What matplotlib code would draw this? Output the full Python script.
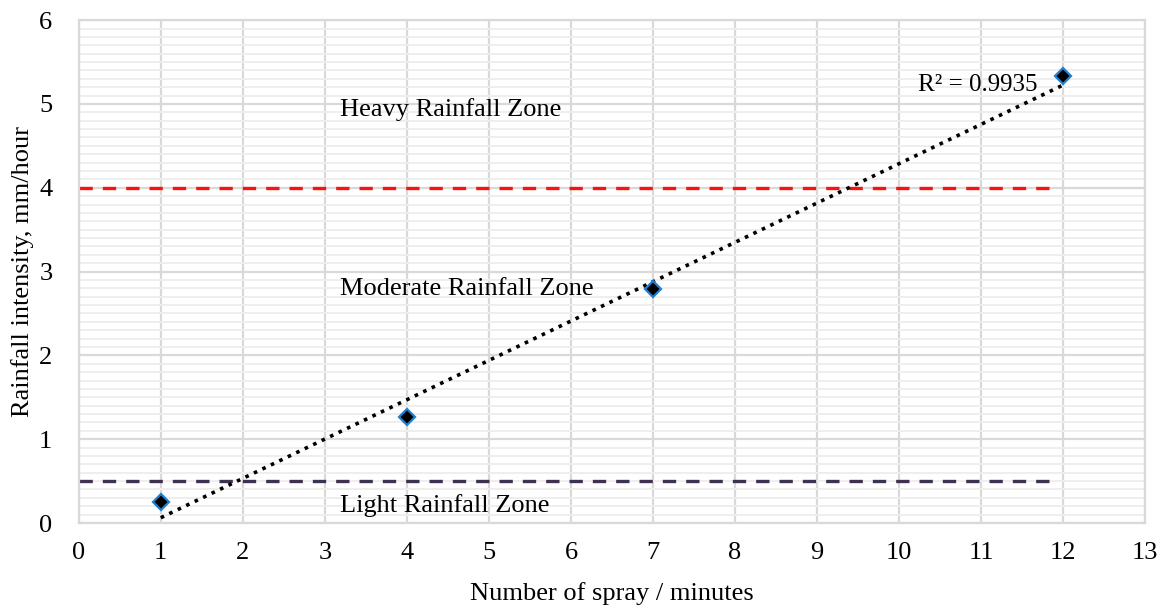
import matplotlib
matplotlib.use("Agg")
import matplotlib.pyplot as plt
import numpy as np

# data
spray = [1, 4, 7, 12]
intensity = [0.25, 1.27, 2.79, 5.33]
heavy_limit = 4.0
light_limit = 0.5
zone_labels = ["Heavy Rainfall Zone", "Moderate Rainfall Zone", "Light Rainfall Zone"]
zone_label_y = [4.93, 2.79, 0.21]
r2_label = "R² = 0.9935"

plt.rcParams['font.family'] = ['Liberation Serif', 'DejaVu Serif']

fig = plt.figure(figsize=(11.58, 6.1), dpi=100)
ax = fig.add_axes([0.068, 0.1426, 0.921, 0.8244])

# linear trendline
coef = np.polyfit(spray, intensity, 1)
fit = np.poly1d(coef)
xt = np.array([spray[0], spray[-1]])
ax.plot(xt, fit(xt), color='black', linestyle=(0, (1, 1.6)), linewidth=2.6, zorder=3)

ax.plot(spray, intensity, linestyle='none', marker='D', markersize=8,
        markerfacecolor='black', markeredgecolor='#1f7fd0', markeredgewidth=1.6, zorder=4)

ax.plot([0, 11.85], [heavy_limit, heavy_limit], color='#ff1010', linestyle=(0, (4, 3)), linewidth=2.4, zorder=2)
ax.plot([0, 11.85], [light_limit, light_limit], color='#3f3151', linestyle=(0, (4, 3)), linewidth=2.4, zorder=2)

for lab, y in zip(zone_labels, zone_label_y):
    ax.text(3.18, y, lab, fontsize=19, va='center', ha='left', zorder=5)
ax.text(10.23, 5.23, r2_label, fontsize=18, va='center', ha='left', zorder=5)

ax.set_xlim(0, 13)
ax.set_ylim(0, 6)
ax.set_xticks(range(0, 14))
ax.set_yticks(range(0, 7))
ax.set_yticks(np.arange(0, 6.01, 0.1), minor=True)
ax.grid(which='major', color='#d9d9d9', linewidth=1.6, zorder=0)
ax.grid(which='minor', axis='y', color='#eeeeee', linewidth=1.4, zorder=0)
ax.set_axisbelow(True)
for s in ax.spines.values():
    s.set_color('#d9d9d9')
    s.set_linewidth(1.6)
ax.tick_params(which='both', length=0, labelsize=19)
ax.tick_params(axis='x', pad=14)
ax.tick_params(axis='y', pad=19)
ax.set_xlabel("Number of spray / minutes", fontsize=19, labelpad=13)
ax.set_ylabel("Rainfall intensity, mm/hour", fontsize=19, labelpad=4)

fig.savefig("out.png", dpi=100)
